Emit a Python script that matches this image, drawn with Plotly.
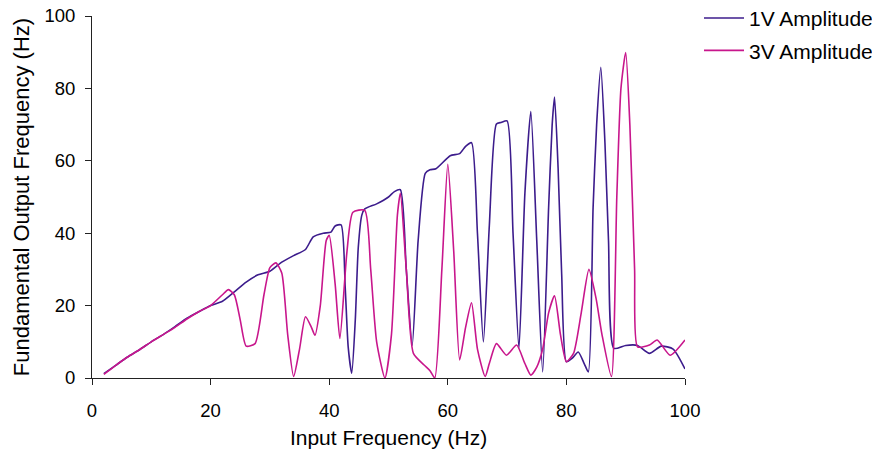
import plotly.graph_objects as go

# 1V amplitude: input frequency (Hz) vs fundamental output frequency (Hz)
freq_1v = [2, 4, 6, 8, 10, 12, 14, 16, 18, 20, 22, 24, 26, 28, 30, 32, 34, 36,
           37.3, 39, 40.3, 41, 42, 42.7, 43.2, 43.8, 44.4, 44.9, 45.5, 46, 48, 50, 51, 52,
           53, 54, 55, 56.2, 57, 58, 60.4, 62, 63, 64, 65, 66, 67, 68.2, 69, 70,
           71, 72, 73, 74, 75, 76, 77, 77.6, 78, 78.6, 79.2, 80, 81, 82, 83, 83.7,
           84.5, 85.1, 85.8, 86.5, 87.1, 88, 90, 92, 94, 96, 98, 100]
out_1v = [1.2, 3.5, 5.8, 7.8, 10, 12, 14.2, 16.5, 18.3, 20, 21.2, 23.8, 26.5, 28.5, 29.5, 32, 33.8, 35.5,
          39, 40, 40.3, 42, 42.3, 25, 8.6, 1.3, 16, 36, 45, 46.7, 48.1, 50, 51.5, 52,
          30, 9, 38, 56.5, 57.5, 57.8, 61.4, 62, 64, 65, 40, 10, 42, 70.2, 70.6, 71,
          40, 8.2, 51, 73.6, 38, 1.7, 47, 70, 77.6, 58, 28.8, 4.5, 5.5, 7.2, 4, 1.7,
          47, 70, 85.8, 65, 38, 8.2, 9, 9, 6.8, 8.8, 8, 2.5]

# 3V amplitude
freq_3v = [2, 4, 6, 8, 10, 12, 14, 16, 18, 20, 22, 23, 24, 25, 26, 27.5, 29, 30, 31, 32,
           33, 34, 35, 36, 37, 37.6, 38.5, 39.5, 40, 41, 41.8, 43, 44, 46, 47, 48, 49.4,
           50.5, 51.5, 52, 53, 54.2, 56, 57, 57.8, 59, 60, 61, 62, 63, 64, 65, 66.3,
           67, 68.2, 69.9, 71.6, 73, 74, 75, 76, 77, 78, 79, 80, 81.2, 82.5, 83.8, 85,
           86, 87.6, 88.5, 89.2, 90, 90.7, 91.5, 92, 94, 95.3, 97.5, 100]
out_3v = [1, 3.5, 5.8, 7.8, 10, 12, 14, 16.3, 18.3, 20, 23, 24.4, 23, 16, 8.8, 9.5, 23, 30.5, 31.8, 29,
          12, 0.4, 8, 16.9, 14, 11.8, 20, 38, 39.4, 26, 10.9, 35, 45.8, 46.3, 30, 10, 0,
          12, 45, 51, 30, 6.8, 3.6, 2, 0, 30, 59, 35, 5, 14, 20.8, 8, 0.4,
          4, 9.5, 6.3, 9.1, 4, 0.8, 3, 8, 18, 22.7, 12, 4.5, 6.8, 18, 30, 22,
          12, 0.4, 50, 80, 89.9, 70, 30, 8.6, 9.1, 10.5, 6.3, 10.5]

fig = go.Figure()
fig.add_trace(go.Scatter(x=freq_1v, y=out_1v, mode='lines', name='1V Amplitude', legendgroup='a',
                         line=dict(color='#3c1c8c', width=1.6, shape='spline', smoothing=0.6)))
fig.add_trace(go.Scatter(x=freq_3v, y=out_3v, mode='lines', name='3V Amplitude', legendgroup='b',
                         line=dict(color='#c8168c', width=1.6, shape='spline', smoothing=0.6)))

axis_style = dict(range=[0, 100], dtick=20, showgrid=False, zeroline=False,
                  showline=True, linecolor='#222', linewidth=1, automargin=False,
                  ticks='outside', ticklen=6, tickcolor='#222', ticklabeloverflow='allow',
                  tickfont=dict(size=18.5, color='black'))

# page body has an 8px margin, so the margins are shifted to compensate
fig.update_layout(
    width=880, height=460,
    margin=dict(l=84, r=203, t=8, b=90, autoexpand=False),
    paper_bgcolor='white', plot_bgcolor='white',
    font=dict(family='Liberation Sans, Arial, sans-serif', color='black'),
    xaxis=dict(title=dict(text='Input Frequency (Hz)', font=dict(size=21), standoff=10),
               ticklabelstandoff=10, **axis_style),
    yaxis=dict(title=dict(text='Fundamental Output Frequency (Hz)', font=dict(size=22), standoff=8),
               ticklabelstandoff=6, **axis_style),
    legend=dict(x=1.0236, y=1.05, xanchor='left', yanchor='top', font=dict(size=21),
                tracegroupgap=2, itemwidth=40, bgcolor='rgba(0,0,0,0)'),
)

fig.write_html("out.html")
